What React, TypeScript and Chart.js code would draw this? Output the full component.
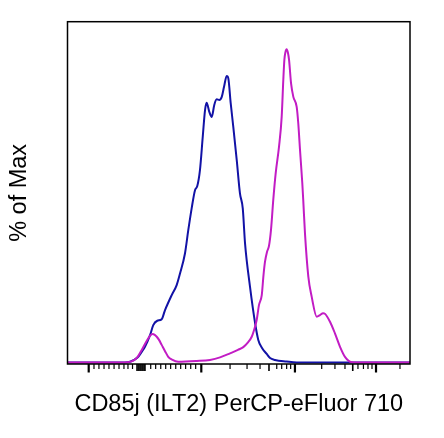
import React, { useEffect, useRef } from "react";
import { Chart, registerables } from "chart.js";

Chart.register(...registerables);

// x positions are in display channels (0..256) of the logicle axis
const blueChannel = [0, 43.0, 46.7, 49.7, 52.9, 55.7, 57.9, 61.7, 64.1, 67.1, 70.4, 72.9, 77.9, 81.6, 84.1, 87.8, 90.3, 92.8, 95.3, 97.0, 99.0, 101.1, 102.8, 104.0, 106.0, 107.8, 109.7, 111.5, 113.5, 115.3, 117.0, 119.0, 120.2, 122.0, 123.9, 126.5, 128.9, 131.0, 132.7, 136.4, 140.2, 142.6, 145.4, 148.9, 151.4, 155.1, 163.8, 171.3, 256];
const bluePct = [0, 0, 0.2, 0.8, 1.8, 3.5, 5.0, 8.7, 11.9, 13.3, 13.8, 16.7, 21.5, 24.7, 28.4, 34.8, 42.3, 49.2, 55.0, 56.3, 61.4, 72.1, 80.6, 82.9, 80.0, 78.4, 82.2, 84.0, 83.8, 84.8, 88.0, 91.5, 90.7, 82.7, 75.3, 64.6, 54.0, 49.2, 38.0, 24.2, 12.6, 7.2, 4.6, 2.7, 1.4, 0.8, 0.3, 0, 0];

const magentaChannel = [0, 39.2, 45.2, 49.2, 52.3, 55.5, 57.9, 60.4, 62.0, 63.7, 65.2, 66.7, 68.4, 70.4, 72.9, 75.3, 78.1, 82.8, 96.6, 106.5, 114.0, 121.5, 127.4, 131.4, 134.9, 137.7, 139.4, 141.4, 143.1, 145.2, 146.5, 147.6, 149.1, 150.6, 152.1, 153.8, 155.6, 158.1, 160.1, 161.3, 162.1, 162.9, 163.8, 164.8, 165.6, 167.1, 168.8, 171.3, 172.5, 173.8, 175.5, 176.2, 177.5, 180.0, 182.5, 186.3, 188.7, 191.0, 192.5, 196.2, 199.9, 203.7, 207.4, 212.4, 218.6, 256];
const magentaPct = [0, 0, 0.1, 0.6, 1.7, 4.0, 5.9, 7.7, 8.7, 9.1, 8.8, 8.2, 7.2, 5.6, 3.6, 1.8, 0.9, 0.2, 0.45, 0.8, 1.6, 2.9, 4.0, 4.9, 6.4, 8.2, 10.3, 13.5, 18.3, 21.5, 27.9, 32.1, 35.3, 37.2, 42.3, 51.9, 60.4, 68.9, 78.5, 90.2, 96.6, 99.1, 100, 98.8, 96.6, 89.1, 84.8, 81.6, 76.3, 67.8, 57.2, 51.9, 41.2, 27.4, 21.0, 14.6, 15.1, 15.7, 15.5, 13.0, 9.3, 5.0, 1.8, 0.1, 0, 0];

// logicle axis tick marks (channel units), no tick labels in the original
const majorTicks = [15.85, 100.0, 170.0, 230.6];
const mediumTicks = [57.9, 150.6, 213.2];
const clusterTicks = [51.9, 52.7, 53.4, 54.2, 54.9, 55.7, 56.4, 57.2];
const minorTicks = [
  19.8, 23.5, 27.3, 31.0, 34.8, 38.5, 42.2, 45.2, 48.6,
  62.2, 65.9, 69.7, 73.4, 77.1, 80.9, 84.6, 88.3, 92.1, 95.8,
  121.5, 134.2, 143.9, 156.4, 160.1, 163.8, 166.8,
  190.0, 199.9, 207.4, 217.1, 221.2, 224.6, 227.6,
  248.5,
];

const xTitle = "CD85j (ILT2) PerCP-eFluor 710";
const yTitle = "% of Max";

const FONT = "'Liberation Sans', Arial, Helvetica, sans-serif";

export default function App() {
  const ref = useRef<HTMLCanvasElement | null>(null);

  useEffect(() => {
    document.body.style.margin = "0";
    const canvas = ref.current;
    if (!canvas) return;

    const frame = {
      id: "frame",
      afterDatasetsDraw(chart: any) {
        const { ctx, chartArea } = chart;
        const xs = chart.scales.x;
        ctx.save();
        ctx.strokeStyle = "#000";
        ctx.lineWidth = 1.5;
        ctx.strokeRect(chartArea.left, chartArea.top, chartArea.right - chartArea.left, chartArea.bottom - chartArea.top);
        const drawSet = (vals: number[], len: number, w: number) => {
          ctx.lineWidth = w;
          for (const v of vals) {
            const px = xs.getPixelForValue(v);
            ctx.beginPath();
            ctx.moveTo(px, chartArea.bottom);
            ctx.lineTo(px, chartArea.bottom + len);
            ctx.stroke();
          }
        };
        drawSet(minorTicks, 5, 1.2);
        drawSet(clusterTicks, 7, 1.4);
        drawSet(mediumTicks, 7, 1.6);
        drawSet(majorTicks, 8.5, 2.2);
        ctx.restore();
      },
    };

    const chart = new Chart(canvas, {
      type: "line",
      data: {
        datasets: [
          {
            label: "stained",
            data: magentaChannel.map((c, i) => ({ x: c, y: magentaPct[i] })),
            borderColor: "#c21cc4",
            borderWidth: 2,
            pointRadius: 0,
            fill: false,
            cubicInterpolationMode: "monotone",
          },
          {
            label: "control",
            data: blueChannel.map((c, i) => ({ x: c, y: bluePct[i] })),
            borderColor: "#1212a6",
            borderWidth: 2,
            pointRadius: 0,
            fill: false,
            cubicInterpolationMode: "monotone",
          },
        ],
      },
      options: {
        animation: false,
        responsive: false,
        events: [],
        layout: { padding: { top: 21.7, right: 34, left: 0, bottom: 0 } },
        plugins: { legend: { display: false }, tooltip: { enabled: false } },
        scales: {
          x: {
            type: "linear",
            min: 0,
            max: 256,
            grid: { display: false, drawTicks: false },
            border: { display: false },
            ticks: { display: false },
            title: {
              display: true,
              text: xTitle,
              color: "#000",
              font: { family: FONT, size: 23.5 },
              padding: { top: 0, bottom: 19 },
            },
            afterFit: (s: any) => {
              s.height = 74;
            },
          },
          y: {
            min: -0.5,
            max: 108.8,
            grid: { display: false, drawTicks: false },
            border: { display: false },
            ticks: { display: false },
            title: {
              display: true,
              text: yTitle,
              color: "#000",
              font: { family: FONT, size: 23.5 },
              padding: { top: 5, bottom: 5 },
            },
            afterFit: (s: any) => {
              s.width = 67.5;
            },
          },
        },
      },
      plugins: [frame],
    });

    return () => chart.destroy();
  }, []);

  return (
    <div style={{ position: "absolute", left: 0, top: 0, width: 444, height: 438, background: "#fff" }}>
      <canvas ref={ref} width={444} height={438} />
    </div>
  );
}
